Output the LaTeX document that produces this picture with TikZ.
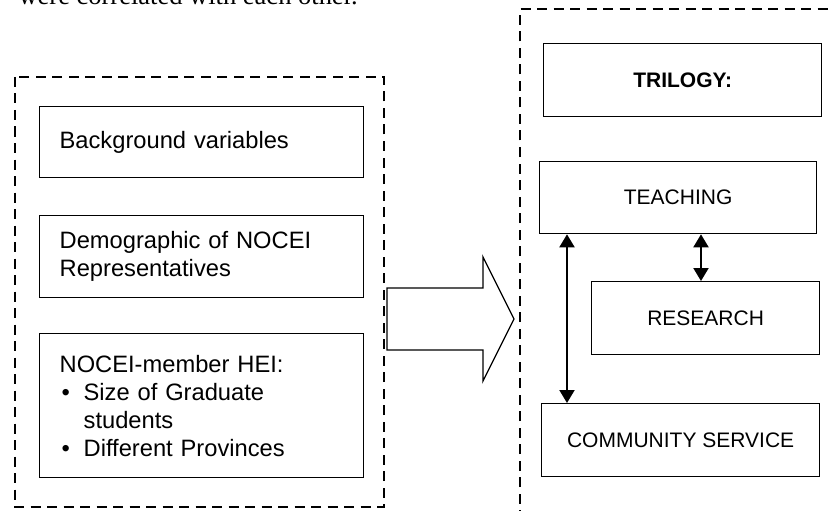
\documentclass[tikz,border=0pt]{standalone}
\usepackage{fontspec}
\setmainfont{Liberation Sans}
\newfontfamily\serifrm{Liberation Serif}
\usetikzlibrary{arrows.meta,positioning}

\begin{document}
\begin{tikzpicture}[x=1pt,y=-1pt]
		\tikzstyle{FrameStyle} = [line width=2pt, dash pattern=on 10pt off 6.5pt]
		\tikzstyle{LeftStyle}  = [draw, line width=1.3pt, anchor=north west, minimum width=324pt, inner xsep=20pt, text width=284pt, align=left, font=\fontsize{23.7}{28}\selectfont]
		\tikzstyle{RightStyle} = [draw, line width=1.3pt, anchor=north west, minimum height=73pt, align=center, font=\fontsize{21}{24}\selectfont]
		\tikzstyle{EdgeStyle}  = [{Triangle[length=13pt,width=15pt]}-{Triangle[length=13pt,width=15pt]}, line width=2pt]
		
		\useasboundingbox (0,0) rectangle (831,511);
		\node[anchor=base west, font=\serifrm\fontsize{26.5}{30}\selectfont] (Caption) at (15,5) {were correlated with each other.};
		
		% left frame
		\draw[FrameStyle] (15,77) rectangle (384,507);
		\node[LeftStyle, minimum height=71pt] (Background) at (39,106) {Background variables};
		\node[LeftStyle, minimum height=82pt] (Demographic) at (39,215) {Demographic of NOCEI\\Representatives};
		\node[LeftStyle, minimum height=144pt] (Member) at (39,333) {NOCEI-member HEI:\\
			\hspace*{2pt}\makebox[22pt][l]{\textbullet}Size of Graduate\\
			\hspace*{24pt}students\\
			\hspace*{2pt}\makebox[22pt][l]{\textbullet}Different Provinces};
		
		% block arrow
		\draw[line width=1.3pt] (387,288) -- (483,288) -- (483,257) -- (514,319) -- (483,381) -- (483,350) -- (387,350) -- cycle;
		
		% right frame
		\draw[FrameStyle] (520,520) -- (520,9) -- (840,9);
		\node[RightStyle, minimum width=278pt] (Trilogy) at (543,43) {\bfseries TRILOGY:};
		\node[RightStyle, minimum width=277pt, minimum height=72pt] (Teaching) at (539,161) {TEACHING};
		\node[RightStyle, minimum width=228pt] (Research) at (591,281) {RESEARCH};
		\node[RightStyle, minimum width=278pt] (Community) at (541,403) {COMMUNITY SERVICE};
		
		\draw[EdgeStyle] ([xshift=28pt]Teaching.south west) -- ([xshift=28pt]Teaching.south west |- Community.north);
		\draw[EdgeStyle] ([xshift=110pt]Research.north west) -- ([xshift=110pt]Research.north west |- Teaching.south);
	\end{tikzpicture}
\end{document}
